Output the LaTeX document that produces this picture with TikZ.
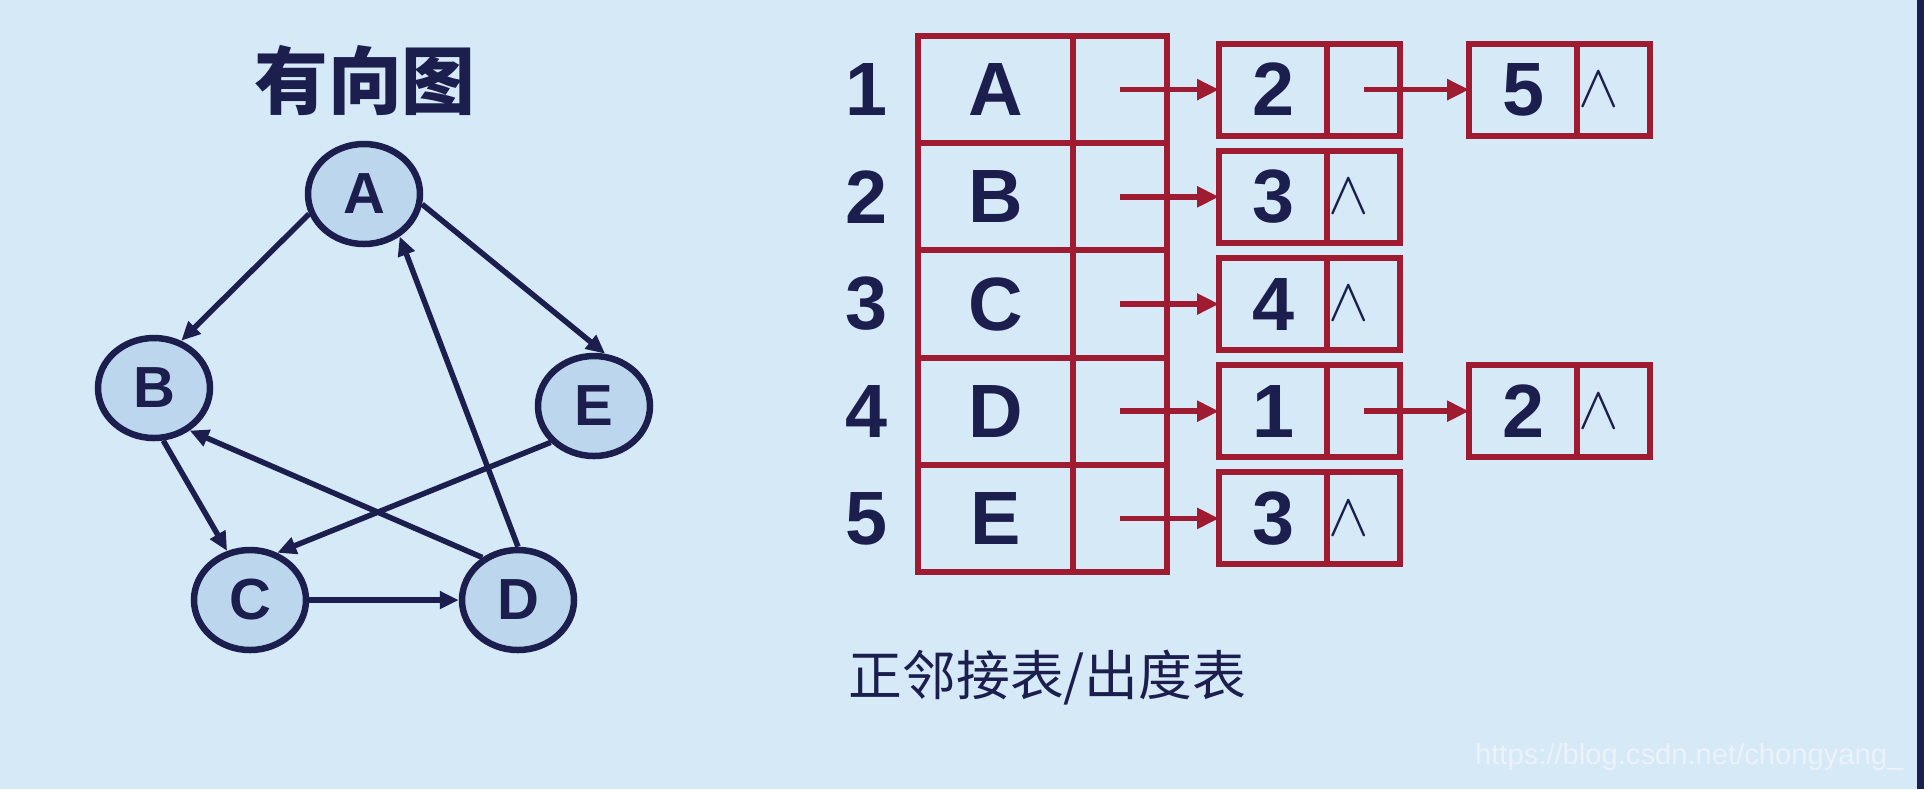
\documentclass[tikz,border=0pt]{standalone}
\usepackage{fontspec}
\setmainfont{Liberation Sans}
\newfontfamily\cjk{Noto Sans CJK SC}
\usepackage{xcolor}
\definecolor{Navy}{RGB}{28,31,78}
\definecolor{Red}{RGB}{158,27,50}
\definecolor{Sky}{RGB}{214,233,247}
\definecolor{NodeBlue}{RGB}{188,215,237}
\definecolor{Mark}{RGB}{236,241,250}
\usetikzlibrary{positioning, shapes.geometric, arrows.meta}

\begin{document}
\begin{tikzpicture}[x=0.1mm, y=-0.1mm,
		vertex/.style={ellipse, draw=Navy, fill=NodeBlue, line width=0.65mm, minimum width=11.2mm, minimum height=10mm, inner sep=0pt, text=Navy, font=\bfseries\fontsize{16.5}{16.5}\selectfont},
		edge/.style={draw=Navy, line width=0.55mm, -{Triangle[length=1.9mm, width=1.7mm]}},
		headcell/.style={rectangle, draw=Red, line width=0.6mm, outer sep=0pt, inner sep=0pt, minimum width=15.5mm, minimum height=10.72mm, text=Navy, font=\bfseries\fontsize{21.5}{21.5}\selectfont},
		headptr/.style={headcell, minimum width=9.4mm},
		listcell/.style={headcell, minimum width=10.8mm, minimum height=9.2mm},
		listptr/.style={listcell, minimum width=7.3mm},
		nil/.style={label={[xshift=-1.5mm, inner sep=0pt, text=Navy, font=\fontsize{16}{16}\selectfont]center:$\wedge$}},
		link/.style={draw=Red, line width=0.55mm, -{Triangle[length=2.2mm, width=2mm]}},
		index/.style={text=Navy, inner sep=0pt, font=\bfseries\fontsize{21.5}{21.5}\selectfont}
	]
		
		% Background
		\fill[Sky] (0,0) rectangle (1924,789);
		\fill[Navy] (1917,0) rectangle (1924,789);
		\useasboundingbox (0,0) rectangle (1924,789);
		
		% Title
		\node[text=Navy, font=\cjk\bfseries\fontsize{21}{21}\selectfont] (title) at (365,80) {有向图};
		
		% Vertices
		\node[vertex] (A) at (364,194) {A};
		\node[vertex] (B) at (154,388) {B};
		\node[vertex] (E) at (594,406) {E};
		\node[vertex] (C) at (250,600) {C};
		\node[vertex] (D) at (518,600) {D};
		
		% Edges
		\draw[edge] (A.200) -- (B.60);
		\draw[edge] (A.-10) -- (E.78);
		\draw[edge] (B.-80) -- (C.115);
		\draw[edge] (E.220) -- (C.60);
		\draw[edge] (C.east) -- (D.west);
		\draw[edge] (D.130) -- (B.-50);
		\draw[edge] (D.90) -- (A.-50);
		
		% Head table
		\node[headcell] (v1) at (995.5,89.6) {A};
		\node[headptr, right=0pt of v1] (p1) {};
		\node[headcell, below=0pt of v1] (v2) {B};
		\node[headptr, right=0pt of v2] (p2) {};
		\node[headcell, below=0pt of v2] (v3) {C};
		\node[headptr, right=0pt of v3] (p3) {};
		\node[headcell, below=0pt of v3] (v4) {D};
		\node[headptr, right=0pt of v4] (p4) {};
		\node[headcell, below=0pt of v4] (v5) {E};
		\node[headptr, right=0pt of v5] (p5) {};
		
		% Indices
		\node[index, left=3mm of v1] (i1) {1};
		\node[index, left=3mm of v2] (i2) {2};
		\node[index, left=3mm of v3] (i3) {3};
		\node[index, left=3mm of v4] (i4) {4};
		\node[index, left=3mm of v5] (i5) {5};
		
		% Lists
		\node[listcell, right=5.2mm of p1] (a1) {2};
		\node[listptr, right=0pt of a1] (a1p) {};
		\node[listcell, right=6.9mm of a1p] (b1) {5};
		\node[listptr, nil, right=0pt of b1] (b1p) {};
		
		\node[listcell, right=5.2mm of p2] (a2) {3};
		\node[listptr, nil, right=0pt of a2] (a2p) {};
		
		\node[listcell, right=5.2mm of p3] (a3) {4};
		\node[listptr, nil, right=0pt of a3] (a3p) {};
		
		\node[listcell, right=5.2mm of p4] (a4) {1};
		\node[listptr, right=0pt of a4] (a4p) {};
		\node[listcell, right=6.9mm of a4p] (b4) {2};
		\node[listptr, nil, right=0pt of b4] (b4p) {};
		
		\node[listcell, right=5.2mm of p5] (a5) {3};
		\node[listptr, nil, right=0pt of a5] (a5p) {};
		
		% Links
		\draw[link] (p1.center) -- (a1);
		\draw[link] (a1p.center) -- (b1);
		\draw[link] (p2.center) -- (a2);
		\draw[link] (p3.center) -- (a3);
		\draw[link] (p4.center) -- (a4);
		\draw[link] (a4p.center) -- (b4);
		\draw[link] (p5.center) -- (a5);
		
		% Caption
		\node[anchor=west, inner sep=0pt, text=Navy, font=\cjk\fontsize{15.3}{15.3}\selectfont] (caption) at (848,678) {正邻接表/出度表};
		\node[anchor=east, inner sep=0pt, text=Mark, font=\fontsize{8.3}{8.3}\selectfont] (mark) at (1904,757) {https://blog.csdn.net/chongyang\_};
		
	\end{tikzpicture}
\end{document}
